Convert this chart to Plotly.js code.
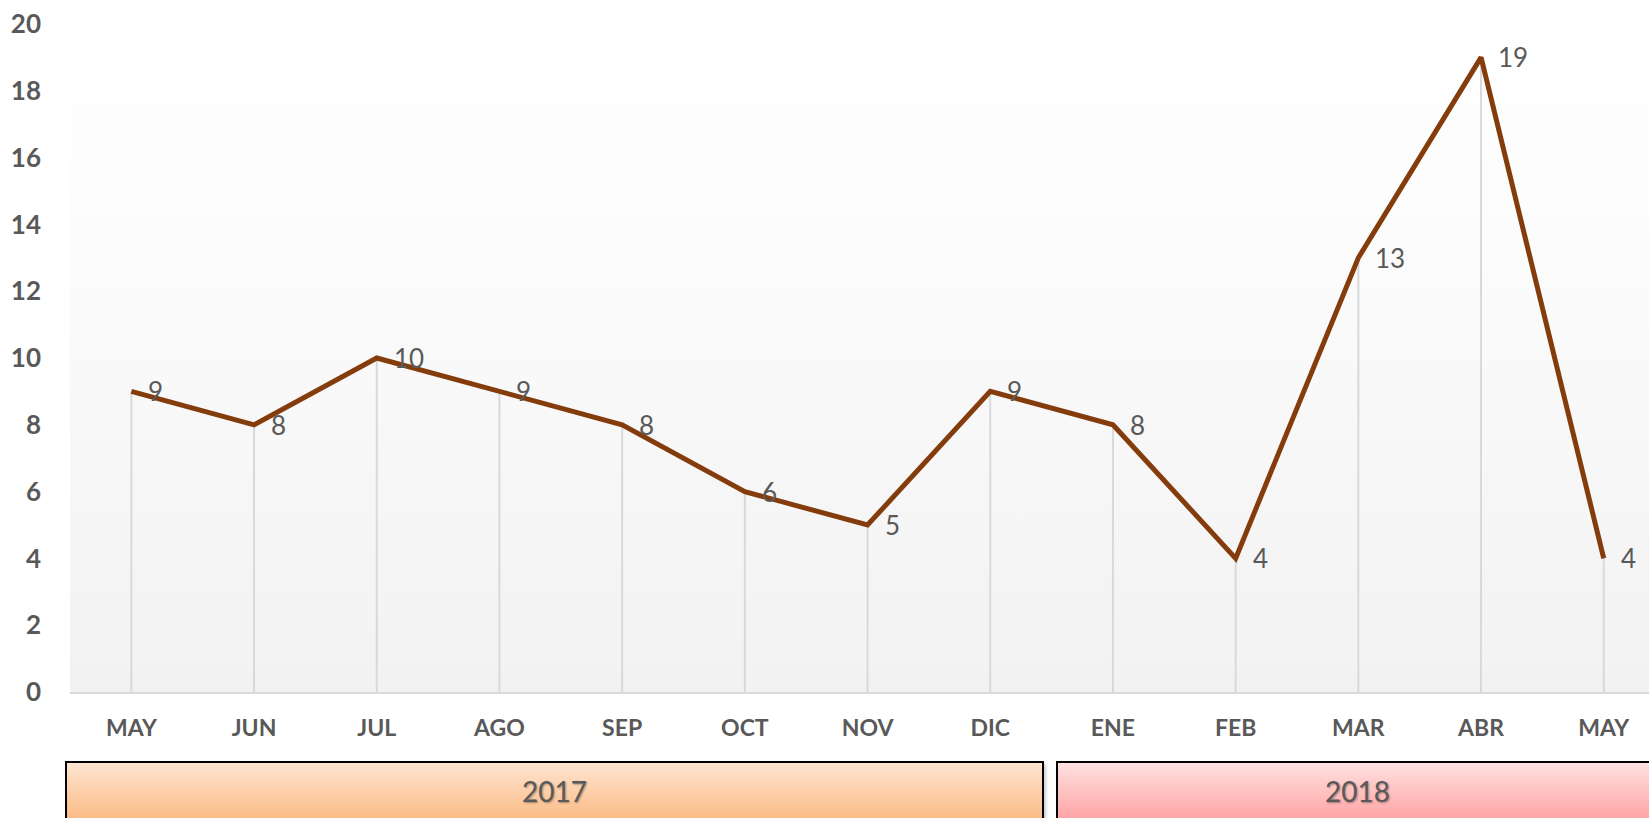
<!DOCTYPE html>
<html>
<head>
<meta charset="utf-8">
<script src="https://cdn.plot.ly/plotly-3.0.1.min.js"></script>
<style>html,body{margin:0;padding:0;background:#fff;}#chart{width:1649px;height:818px;}</style>
</head>
<body>
<div id="chart"></div>
<script>
// ---- data ----
const months = ["MAY","JUN","JUL","AGO","SEP","OCT","NOV","DIC","ENE","FEB","MAR","ABR","MAY"];
const values = [9, 8, 10, 9, 8, 6, 5, 9, 8, 4, 13, 19, 4];
const years = ["2017", "2018"];
const yTicks = [0,2,4,6,8,10,12,14,16,18,20];

// ---- geometry helpers (pixel -> paper) ----
const W = 1649, H = 818;
const M = {l: 70, r: 0, t: 10, b: 126};
const PW = W - M.l - M.r, PH = H - M.t - M.b;
const px = x => (x - M.l) / PW;
const py = y => (H - M.b - y) / PH;

const idx = months.map((m, i) => i);

function svgURI(svg){ return 'data:image/svg+xml;base64,' + btoa(svg); }

const bgSVG = `<svg xmlns="http://www.w3.org/2000/svg" width="100" height="100" viewBox="0 0 100 100" preserveAspectRatio="none">
<defs><linearGradient id="g" x1="0" y1="0" x2="0" y2="1"><stop offset="0" stop-color="#ffffff"/><stop offset="0.25" stop-color="#fdfdfd"/><stop offset="1" stop-color="#f2f2f2"/></linearGradient></defs>
<rect x="0" y="0" width="100" height="100" fill="url(#g)"/></svg>`;

const PAD = 8;
function boxSVG(w, top, bottom){
  const tw = w + PAD;
  return `<svg xmlns="http://www.w3.org/2000/svg" width="${tw}" height="70" viewBox="0 0 ${tw} 70">
<defs><linearGradient id="g" gradientUnits="userSpaceOnUse" x1="0" y1="0" x2="0" y2="56"><stop offset="0" stop-color="${top}"/><stop offset="1" stop-color="${bottom}"/></linearGradient>
<filter id="s" x="-5%" y="-20%" width="110%" height="140%"><feGaussianBlur stdDeviation="2"/></filter></defs>
<rect x="3" y="3" width="${w-2}" height="80" fill="#000000" opacity="0.3" filter="url(#s)"/>
<rect x="1" y="1" width="${w-2}" height="80" fill="url(#g)" stroke="#000000" stroke-width="2"/></svg>`;
}

const boxes = [
  {x0: 65, x1: 1044, top: '#fee6d3', bottom: '#fbbd88', tx: 554},
  {x0: 1056, x1: 1690, top: '#ffe3e3', bottom: '#ffa6a6', tx: 1357}
];

const images = [{
  source: svgURI(bgSVG), xref: 'paper', yref: 'paper', x: 0, y: 1, sizex: 1, sizey: 1,
  xanchor: 'left', yanchor: 'top', sizing: 'stretch', layer: 'below'
}];
boxes.forEach(b => {
  const w = b.x1 - b.x0;
  images.push({
    source: svgURI(boxSVG(w, b.top, b.bottom)), xref: 'paper', yref: 'paper',
    x: px(b.x0), y: py(761), sizex: (w + PAD) / PW, sizey: 70 / PH,
    xanchor: 'left', yanchor: 'top', sizing: 'stretch', layer: 'above'
  });
});

const annotations = values.map((v, i) => ({
  x: idx[i], y: v, xref: 'x', yref: 'y', text: String(v), showarrow: false,
  xanchor: 'left', yanchor: 'middle', xshift: 15, yshift: 0,
  font: {family: 'Lato, sans-serif', size: 26, color: '#595959'}
}));
years.forEach((yr, k) => {
  annotations.push({
    x: px(boxes[k].tx), y: py(791), xref: 'paper', yref: 'paper', text: yr, showarrow: false,
    xanchor: 'center', yanchor: 'middle',
    font: {family: 'Lato, sans-serif', size: 28, color: '#595959', shadow: '1px 1px 2px rgba(0,0,0,0.35)'}
  });
});

const dropTrace = {
  x: idx, y: values, type: 'scatter', mode: 'markers',
  marker: {size: 1, opacity: 0},
  error_y: {type: 'data', symmetric: false, array: values.map(() => 0), arrayminus: values,
            color: '#d9d9d9', thickness: 2, width: 0},
  hoverinfo: 'skip', showlegend: false
};
const lineTrace = {
  x: idx, y: values, type: 'scatter', mode: 'lines',
  line: {color: '#843c0c', width: 5},
  showlegend: false
};

const layout = {
  width: W, height: H,
  margin: M,
  paper_bgcolor: '#ffffff', plot_bgcolor: 'rgba(0,0,0,0)',
  showlegend: false,
  xaxis: {
    range: [-0.5, -0.5 + PW / 122.7], tickvals: idx, ticktext: months,
    showgrid: false, zeroline: false, showline: true, linecolor: '#d9d9d9', linewidth: 2,
    ticks: '', ticklabelstandoff: 14,
    tickfont: {family: 'Lato, sans-serif', size: 23, color: '#595959', weight: 'bold'},
    fixedrange: true
  },
  yaxis: {
    range: [0, PH / 33.4], tickvals: yTicks, ticktext: yTicks.map(String),
    showgrid: false, zeroline: false, showline: false, ticks: '', ticklabelstandoff: 28,
    tickfont: {family: 'Lato, sans-serif', size: 26, color: '#595959', weight: 'bold'},
    fixedrange: true
  },
  images: images,
  annotations: annotations
};

Plotly.newPlot('chart', [dropTrace, lineTrace], layout, {displayModeBar: false, staticPlot: true});
</script>
</body>
</html>
